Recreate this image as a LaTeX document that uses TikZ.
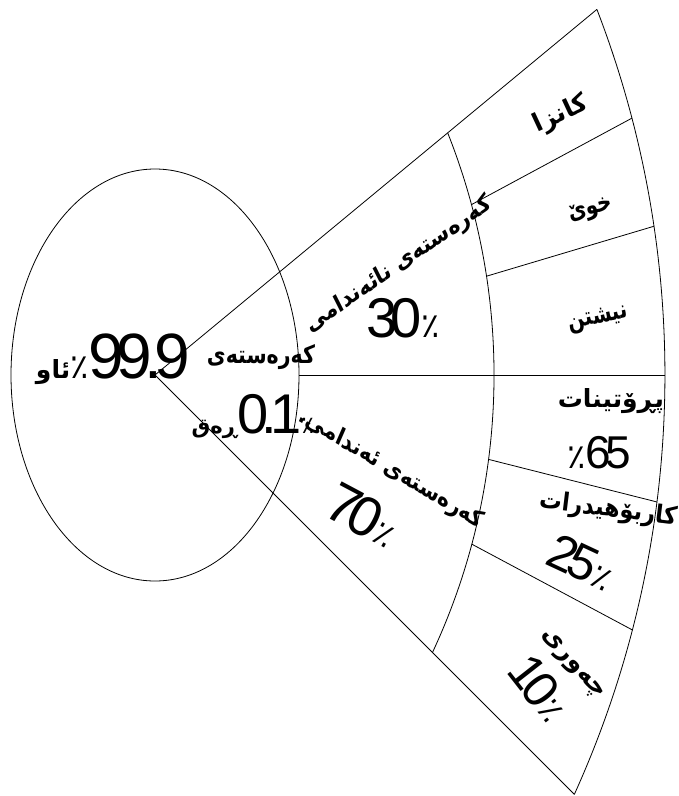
\documentclass[tikz,border=0pt]{standalone}
\usepackage{fontspec}
\TeXXeTstate=1
\newfontfamily\kufont[Script=Arabic]{DejaVu Sans Bold}
\newfontfamily\pcfont[Script=Arabic]{DejaVu Sans}
\newfontfamily\numfont[LetterSpace=-12]{Liberation Sans}
\newcommand{\pc}[1][34]{{\pcfont\fontsize{#1}{#1}\selectfont ٪}}
\newcommand{\bignum}[2]{{\numfont\fontsize{#1}{#1}\selectfont #2}}
\newcommand{\ku}[1]{\beginR #1\endR}

\begin{document}
\begin{tikzpicture}[x=1pt, y=-1pt, line width=0.8pt,
  ku/.style={font=\kufont\fontsize{25}{29}\selectfont, inner sep=0pt},
  kulong/.style={ku, font=\kufont\fontsize{24}{28}\selectfont, xscale=0.86}]
  \useasboundingbox (0,0) rectangle (679,796);

  % points of the fan
  \coordinate (apex) at (155,375);
  \coordinate (top) at (596.9,9.4);
  \coordinate (bottom) at (574.4,794.4);
  \coordinate (mid1) at (299,375);
  \coordinate (mid2) at (665,375);

  % water ellipse
  \draw (apex) ellipse [x radius=144pt, y radius=206pt];

  % rays
  \draw (apex) -- (top);
  \draw (apex) -- (bottom);
  \draw (mid1) -- (mid2);

  % arcs
  \draw (447.7,132.9) arc[start angle=21.66, end angle=-25.02, radius=656pt];
  \draw (top) arc[start angle=21.09, end angle=-24.38, radius=1016pt];

  % dividers of the outer ring
  \draw (471.5,204.6) -- (632.0,118.1);
  \draw (486.5,276.2) -- (654.1,226.2);
  \draw (488.6,459.4) -- (657.1,502.0);
  \draw (471.9,544.2) -- (632.5,630.0);

  % labels
  \node[ku, anchor=base] (water) at (113,378)
    {\ku{ئاو}\pc\bignum{64}{99.9}};
  \node[ku, anchor=base, xscale=0.82] (matter) at (261,363) {\ku{کەرەستەی}};
  \node[anchor=base, inner sep=0pt] (solid) at (253,433)
    {{\kufont\fontsize{21}{21}\selectfont\ku{ڕەق}}\bignum{56}{0.1}\pc[24]};

  \node[kulong, rotate=30.5] (inorganic) at (399,265) {\ku{کەرەستەی نائەندامی}};
  \node[ku] (inorgpc) at (403,318) {\bignum{56}{30}\pc};
  \node[kulong, rotate=-27] (organic) at (391,469) {\ku{کەرەستەی ئەندامی.}};
  \node[ku, rotate=-28] (orgpc) at (363,515) {\bignum{56}{70}\pc};

  \node[ku, rotate=25] (mineral) at (561,115) {\ku{کانزا}};
  \node[ku, rotate=15, xscale=0.8] (salt) at (591,211) {\ku{خوێ}};
  \node[ku, rotate=12, xscale=0.78] (sediment) at (598,319) {\ku{نیشتن}};

  \node[ku] (protein) at (611,401) {\ku{پڕۆتینات}};
  \node[ku] (protpc) at (599,453) {\pc\bignum{46}{65}};
  \node[ku, rotate=-7, xscale=0.9] (carb) at (608,510) {\ku{کاربۆهیدرات}};
  \node[ku, rotate=-25] (carbpc) at (582,562) {\bignum{50}{25}\pc};
  \node[ku, rotate=-48] (fat) at (572,665) {\ku{چەوری}};
  \node[ku, rotate=-52] (fatpc) at (540,688) {\bignum{50}{10}\pc};
\end{tikzpicture}
\end{document}
